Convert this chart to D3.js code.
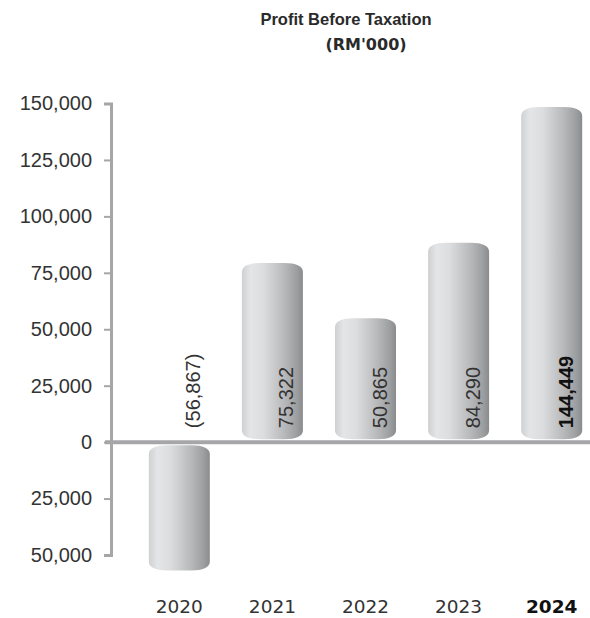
<!DOCTYPE html>
<html>
<head>
<meta charset="utf-8">
<script src="https://cdn.jsdelivr.net/npm/d3@7"></script>
<style>
  html, body { margin: 0; padding: 0; background: #ffffff; }
  svg { display: block; }
</style>
</head>
<body>
<svg id="chart" width="590" height="618"></svg>
<script>
// Profit before taxation, RM'000
const years = ["2020", "2021", "2022", "2023", "2024"];
const profits = [-56867, 75322, 50865, 84290, 144449];
const valueLabels = ["(56,867)", "75,322", "50,865", "84,290", "144,449"];
const tickValues = [-50000, -25000, 0, 25000, 50000, 75000, 100000, 125000, 150000];
const tickLabels = ["50,000", "25,000", "0", "25,000", "50,000", "75,000", "100,000", "125,000", "150,000"];
const highlightYear = "2024";

const svg = d3.select("#chart");

const y = d3.scaleLinear().domain([-50000, 150000]).range([555, 103.5]);
const x = d3.scaleBand().domain(years).range([133, 598]).paddingInner(0.345).paddingOuter(0.17);

// cylinder shading
const defs = svg.append("defs");
const grad = defs.append("linearGradient").attr("id", "cyl").attr("x1", "0%").attr("x2", "100%");
[[0, "#cfd0d2"], [0.14, "#e4e5e7"], [0.35, "#dcdddf"], [0.7, "#b7b8ba"], [0.9, "#9d9ea0"], [1, "#8a8b8d"]]
  .forEach(([o, c]) => grad.append("stop").attr("offset", o).attr("stop-color", c));

// title
svg.append("text").attr("x", 346).attr("y", 25).attr("text-anchor", "middle")
  .attr("font-family", "Liberation Sans, Arial, sans-serif").attr("font-weight", "bold")
  .attr("font-size", 16.5).attr("fill", "#2a2a2a").text("Profit Before Taxation");
svg.append("text").attr("x", 366).attr("y", 50).attr("text-anchor", "middle")
  .attr("font-family", "DejaVu Sans, sans-serif").attr("font-weight", "bold")
  .attr("font-size", 16).attr("fill", "#2a2a2a").text("(RM'000)");

// y axis
const yAxis = d3.axisLeft(y).tickValues(tickValues).tickSize(7).tickPadding(12)
  .tickFormat((d, i) => tickLabels[i]);
const gy = svg.append("g").attr("transform", "translate(111,0)").call(yAxis);
gy.select(".domain").attr("stroke", "#a6a6a8").attr("stroke-width", 3);
gy.selectAll(".tick line").attr("stroke", "#a6a6a8").attr("stroke-width", 2);
gy.selectAll(".tick text").attr("font-family", "Liberation Sans, Arial, sans-serif")
  .attr("font-size", 20).attr("fill", "#333");

// cylinder path with rounded ends
const capRy = 9;
function cylinder(x0, w, top, bottom) {
  const rx = w * 0.3, ry = capRy;
  const x1 = x0 + w;
  return `M${x0},${top + ry}` +
    `C${x0},${top + ry * 0.3} ${x0 + rx * 0.4},${top} ${x0 + rx},${top}` +
    `L${x1 - rx},${top}` +
    `C${x1 - rx * 0.4},${top} ${x1},${top + ry * 0.3} ${x1},${top + ry}` +
    `L${x1},${bottom - ry}` +
    `C${x1},${bottom - ry * 0.3} ${x1 - rx * 0.4},${bottom} ${x1 - rx},${bottom}` +
    `L${x0 + rx},${bottom}` +
    `C${x0 + rx * 0.4},${bottom} ${x0},${bottom - ry * 0.3} ${x0},${bottom - ry}Z`;
}

const data = years.map((yr, i) => ({ year: yr, value: profits[i], label: valueLabels[i] }));
const bw = 61;
const y0 = y(0);

// the value sits at the middle of the cylinder's end cap
svg.append("g").selectAll("path").data(data).join("path")
  .attr("d", d => {
    const cx = x(d.year) + x.bandwidth() / 2;
    const top = d.value >= 0 ? y(d.value) - capRy : y0 + 3;
    const bottom = d.value >= 0 ? y0 - 3 : y(d.value);
    return cylinder(cx - bw / 2, bw, top, bottom);
  })
  .attr("fill", "url(#cyl)");

// zero baseline
svg.append("line").attr("x1", 105).attr("x2", 590).attr("y1", y0).attr("y2", y0)
  .attr("stroke", "#a6a6a8").attr("stroke-width", 4);

// value labels, rotated
svg.append("g").selectAll("text").data(data).join("text")
  .attr("transform", d => `translate(${x(d.year) + x.bandwidth() / 2 + 21},${y0 - 14}) rotate(-90)`)
  .attr("font-family", "Liberation Sans, Arial, sans-serif")
  .attr("font-size", 20)
  .attr("font-weight", d => d.year === highlightYear ? "bold" : "normal")
  .attr("fill", d => d.year === highlightYear ? "#111" : "#333")
  .text(d => d.label);

// year labels
svg.append("g").selectAll("text").data(years).join("text")
  .attr("x", d => x(d) + x.bandwidth() / 2)
  .attr("y", 613)
  .attr("text-anchor", "middle")
  .attr("font-family", "DejaVu Sans, sans-serif")
  .attr("font-size", 18.5)
  .attr("font-weight", d => d === highlightYear ? "bold" : "normal")
  .attr("fill", d => d === highlightYear ? "#111" : "#333")
  .text(d => d);
</script>
</body>
</html>
